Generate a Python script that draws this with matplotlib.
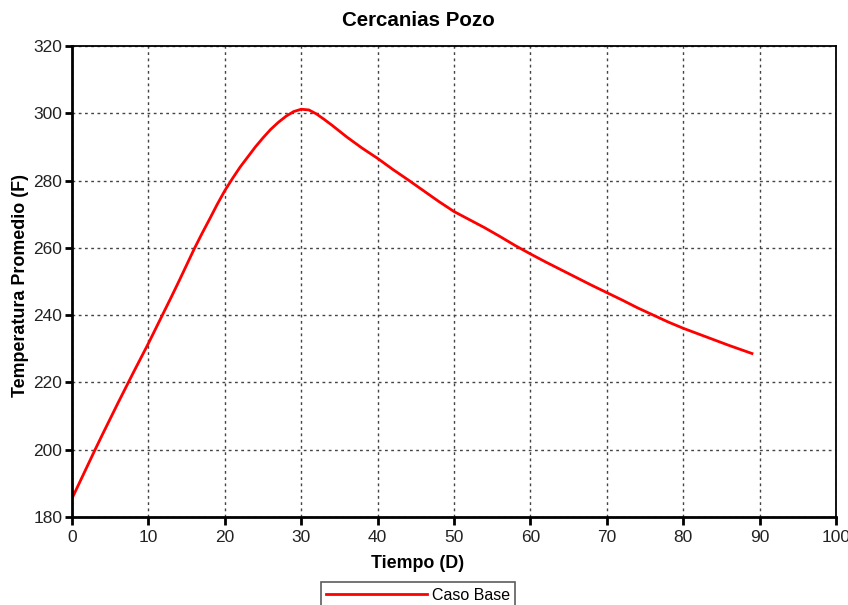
import matplotlib
matplotlib.use("Agg")
import matplotlib.pyplot as plt

plt.rcParams['font.family'] = ['Liberation Sans', 'DejaVu Sans']

# Average temperature near the well over time (base case)
tiempo = [0, 1, 2, 3, 4, 5, 6, 7, 8, 9, 10, 11, 12, 13, 14, 15, 16, 17, 18,
          19, 20, 21, 22, 23, 24, 25, 26, 27, 28, 29, 30, 31, 32, 33, 34, 35,
          36, 38, 40, 42, 44, 46, 48, 50, 52, 54, 56, 58, 60, 62, 64, 66, 68,
          70, 72, 74, 76, 78, 80, 82, 84, 86, 88, 89]
temperatura = [185.5, 190.3, 195.1, 199.9, 204.6, 209.2, 213.8, 218.3, 222.8,
               227.2, 231.6, 236.2, 240.8, 245.4, 250.1, 254.9, 259.7, 264.2,
               268.5, 272.9, 277.0, 280.6, 284.0, 287.0, 290.0, 292.7, 295.2,
               297.3, 299.1, 300.5, 301.2, 301.0, 299.8, 298.2, 296.5, 294.7,
               292.9, 289.6, 286.6, 283.3, 280.2, 277.0, 273.8, 270.8, 268.4,
               266.0, 263.4, 260.7, 258.2, 255.8, 253.5, 251.2, 248.9, 246.7,
               244.5, 242.2, 240.1, 238.0, 236.1, 234.4, 232.7, 231.0, 229.4,
               228.6]

x_ticks = [0, 10, 20, 30, 40, 50, 60, 70, 80, 90, 100]
y_ticks = [180, 200, 220, 240, 260, 280, 300, 320]

fig = plt.figure(figsize=(8.48, 6.05), dpi=100)
ax = fig.add_axes([72 / 848, 1 - 517 / 605, (836 - 72) / 848, (517 - 46) / 605])

line, = ax.plot(tiempo, temperatura, color='#ff0000', lw=2.0,
                solid_joinstyle='round', label='Caso Base')

ax.set_xlim(0, 100)
ax.set_ylim(180, 320)
ax.set_xticks(x_ticks)
ax.set_yticks(y_ticks)

ax.grid(True, color='#444444', linestyle=(0, (2, 2.5)), linewidth=1.0)
ax.set_axisbelow(True)

for side in ('left', 'bottom'):
    ax.spines[side].set_linewidth(2.0)
for side in ('top', 'right'):
    ax.spines[side].set_linewidth(1.3)

ax.tick_params(axis='x', direction='out', length=6, width=2, pad=3,
               labelsize=12.5, labelcolor='#222222')
ax.tick_params(axis='y', direction='out', length=5, width=2, pad=2,
               labelsize=12.5, labelcolor='#222222')

fig.text(418 / 848, 1 - 21 / 605, 'Cercanias Pozo', ha='center', va='center',
         fontsize=14.8, fontweight='bold')
fig.text(418 / 848, 1 - 564 / 605, 'Tiempo (D)', ha='center', va='center',
         fontsize=12.9, fontweight='bold')
fig.text(21 / 848, 1 - 286 / 605, 'Temperatura Promedio (F)', ha='center',
         va='center', rotation=90, fontsize=12.9, fontweight='bold')

leg = fig.legend(handles=[line], loc='upper center',
                 bbox_to_anchor=(418 / 848, 1 - 582 / 605),
                 fontsize=11.5, handlelength=6.3, handletextpad=0.3,
                 borderpad=0.35, borderaxespad=0, frameon=True, fancybox=False)
leg.get_frame().set_edgecolor('#333333')
leg.get_frame().set_linewidth(1.2)

fig.savefig('out.png', dpi=100)
